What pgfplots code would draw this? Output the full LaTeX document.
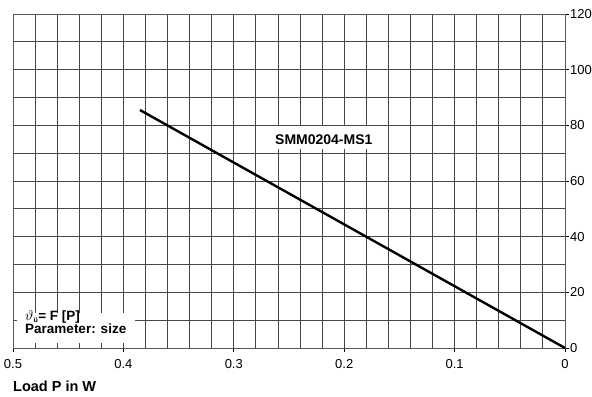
\documentclass[border=0pt]{standalone}
\usepackage{fontspec}
\setmainfont{Liberation Sans}
\usepackage{pgfplots}
\pgfplotsset{compat=1.18}
\begin{document}
\begin{tikzpicture}
\begin{axis}[
 name=ax,
 scale only axis, width=552pt, height=334pt,
 xmin=0, xmax=0.5, ymin=0, ymax=120, x dir=reverse,
 xtick={0,0.1,0.2,0.3,0.4,0.5},
 xticklabels={0,0.1,0.2,0.3,0.4,0.5},
 minor xtick={0.02,0.04,0.06,0.08,0.12,0.14,0.16,0.18,0.22,0.24,0.26,0.28,0.32,0.34,0.36,0.38,0.42,0.44,0.46,0.48},
 ytick={0,20,40,60,80,100,120},
 minor ytick={10,30,50,70,90,110},
 grid=both,
 major grid style={black!72, line width=0.9pt},
 minor grid style={black!72, line width=0.9pt},
 axis line style={black!65, line width=0.9pt},
 tick align=outside,
 major tick length=4pt, minor tick length=0pt,
 tick style={black, line width=0.8pt},
 xtick pos=left, ytick pos=right,
 yticklabel pos=right,
 /pgf/number format/assume math mode=true,
 tick label style={font=\fontsize{13}{13}\selectfont},
 xticklabel style={inner sep=0pt, anchor=north, yshift=-7pt},
 yticklabel style={inner sep=0pt, anchor=west, xshift=1pt},
 clip=false,
]
\addplot[black, line width=2.4pt] coordinates {(0.385,85.5) (0,0)};
\fill[white] (axis cs:0.269,71.4) rectangle (axis cs:0.1676,79.6);
\node[anchor=base west, inner sep=0pt, font=\fontsize{14}{14}\selectfont\bfseries] at (axis cs:0.2627,73.2) {SMM0204-MS1};
\fill[white] (axis cs:0.4964,1.8) rectangle (axis cs:0.3895,12.6);
\node[anchor=base west, inner sep=0pt, font=\fontsize{13.5}{13.5}\selectfont\bfseries] at (axis cs:0.4891,9.8) {$\vartheta_{\mbox{\fontsize{7}{7}\selectfont\bfseries ü}}$= F [P]};
\node[anchor=base west, inner sep=0pt, font=\fontsize{13.5}{13.5}\selectfont\bfseries] at (axis cs:0.4891,5.3) {Parameter: size};
\end{axis}
\node[anchor=base west, inner sep=0pt, font=\fontsize{14.5}{14.5}\selectfont\bfseries] at ([shift={(0pt,-43.7pt)}]ax.south west) {Load P in W};
\pgfresetboundingbox
\useasboundingbox ([shift={(-13pt,-48pt)}]ax.south west) rectangle ([shift={(27pt,14pt)}]ax.north east);
\end{tikzpicture}
\end{document}
